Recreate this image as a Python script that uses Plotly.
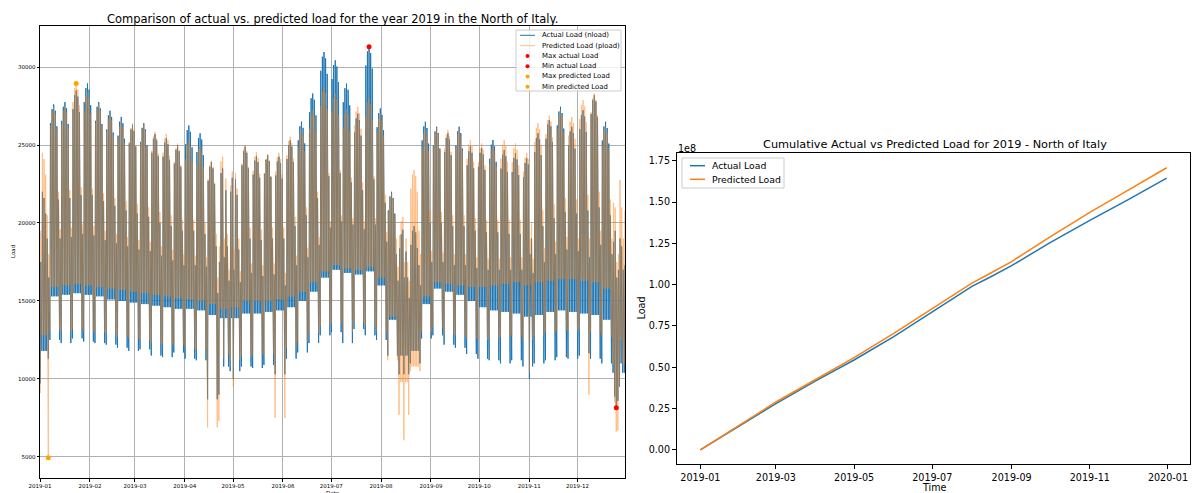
import pandas as pd
import numpy as np
import plotly.graph_objects as go

# The page draws the figure 8 px in from the top-left corner, so the figure is 8 px smaller
OFF = 8
W, H = 1200 - OFF, 493 - OFF

# ---------------- Left panel data (weekly readings; week k starts Monday 2018-12-31 + 7k) -------------
act_peak = [22000, 27600, 27750, 28500, 28950, 27750, 27200, 26800, 26300, 26400, 25700, 25450, 25000,
            26250, 25750, 23900, 23500, 23200, 24900, 24300, 24360, 24250, 25300, 26500, 28300, 30960,
            30430, 28940, 27000, 31300, 27340, 22000, 19570, 19800, 26490, 26170, 25750, 26170, 24900,
            24800, 25320, 24680, 24470, 24150, 25750, 26600, 27450, 26170, 27230, 28190, 26490, 20000, 18500]
prd_peak = [24500, 27400, 27500, 28950, 28400, 27600, 27000, 26500, 26400, 26300, 25850, 25700, 25100,
            25300, 25000, 24000, 24250, 23600, 25000, 24550, 24400, 24500, 25530, 26000, 27230, 28700,
            28300, 27300, 27450, 28000, 27000, 21900, 20400, 23400, 26000, 26100, 25960, 26000, 25320,
            25100, 25000, 25320, 25100, 24500, 26400, 26900, 27230, 26800, 27870, 28300, 26170, 22500, 22000]
act_sat = [19000, 21500, 21600, 21800, 21800, 21400, 21100, 20800, 20600, 20400, 20000, 19800, 19500,
           19500, 19300, 18500, 18500, 18300, 19000, 18900, 19000, 19000, 19800, 20500, 21600, 23000,
           23200, 22600, 22100, 22800, 21300, 18000, 16500, 17300, 20000, 20000, 19800, 19800, 19500,
           19400, 19400, 19300, 19300, 19000, 19800, 20300, 20700, 20600, 20800, 21000, 20500, 18500, 18500]
prd_sat = [20500, 22000, 22100, 22300, 22200, 21900, 21600, 21400, 21200, 21000, 20700, 20500, 20200,
           20200, 20000, 19300, 19300, 19000, 19700, 19600, 19700, 19700, 20400, 21000, 22000, 23200,
           23400, 22900, 22600, 23000, 21800, 19000, 17500, 19500, 20800, 20700, 20500, 20500, 20300,
           20200, 20200, 20200, 20200, 20000, 20800, 21200, 21600, 21500, 21800, 22000, 21500, 21000, 21000]
act_sun = [16500, 19000, 19100, 19300, 19200, 18900, 18700, 18500, 18300, 18200, 17900, 17600, 17300,
           17300, 17200, 15500, 16300, 16200, 16800, 16600, 16700, 16000, 17300, 17800, 18600, 19700,
           20100, 19900, 19600, 19900, 18800, 16300, 15200, 16000, 17500, 17500, 17300, 17300, 17100,
           17000, 17000, 17000, 17000, 16800, 17500, 18000, 18300, 18200, 17800, 18600, 18000, 17000, 17000]
prd_sun = [18000, 19600, 19700, 19900, 19800, 19500, 19300, 19100, 18900, 18800, 18500, 18300, 18000,
           17900, 17800, 16500, 17000, 16900, 17400, 17300, 17400, 16800, 17900, 18400, 19100, 20100,
           20500, 20300, 20100, 20300, 19400, 17200, 16300, 18000, 18200, 18100, 18000, 18000, 17800,
           17700, 17700, 17800, 17800, 17700, 18400, 18800, 19100, 19000, 18800, 19500, 19000, 19000, 19000]
act_low = [11800, 15300, 15400, 15500, 15400, 15300, 15100, 15000, 14900, 14800, 14700, 14600, 14500,
           14500, 14400, 14100, 13900, 13900, 14200, 14200, 14300, 14400, 14600, 15000, 15600, 16500,
           17000, 16800, 16700, 16900, 16000, 13800, 11500, 11800, 14800, 15800, 15600, 15400, 15000,
           14600, 14400, 14300, 14200, 14000, 14100, 14300, 14400, 14300, 14200, 14100, 13800, 11000, 10400]
prd_low = [12800, 15900, 16000, 16100, 16000, 15900, 15800, 15700, 15600, 15500, 15400, 15300, 15200,
           15100, 15000, 14800, 14500, 14600, 15000, 15000, 15000, 15100, 15300, 15600, 16200, 16900,
           17300, 17100, 17000, 17200, 16500, 14000, 9800, 10800, 15300, 16200, 16100, 16000, 15900,
           15900, 16000, 16100, 16200, 16000, 16200, 16300, 16400, 16400, 16300, 16200, 15800, 12500, 11000]
act_low_wkend = [11300, 12500, 12300, 12600, 12400, 12300, 12200, 12000, 11800, 11900, 11500, 11400, 11700,
                 11300, 11200, 8700, 10800, 10500, 10800, 10700, 10900, 10300, 11300, 11700, 12300, 12800,
                 13000, 12300, 13200, 12800, 12500, 11500, 10300, 11000, 12600, 12800, 12200, 12000, 11600,
                 11300, 11200, 11000, 11200, 10800, 11000, 11200, 11400, 11300, 11500, 11300, 11000, 10400, 10400]
prd_low_wkend = [4950, 13100, 13100, 13200, 13000, 13000, 12900, 12700, 12600, 12500, 12300, 12200, 12200,
                 12000, 11900, 6900, 11600, 11200, 11500, 11500, 11600, 7500, 12000, 12400, 12900, 13400,
                 13600, 13000, 13600, 13400, 13000, 11200, 7700, 10500, 13000, 13300, 12900, 12800, 12600,
                 12500, 12600, 12700, 12800, 12500, 12800, 13000, 13100, 13100, 13200, 13000, 12700, 11000, 11000]
weekday_peak_offset = [-1200, -300, 0, -400, -1400]   # Mon..Fri, relative to the weekly peak

holiday_dates = ["2019-01-01", "2019-04-22", "2019-04-25", "2019-05-01", "2019-08-15", "2019-11-01",
                 "2019-12-08", "2019-12-24", "2019-12-25", "2019-12-26", "2019-12-27"]
holiday_act_peak = [17500, 17500, 17800, 17000, 16500, 18000, 17800, 19500, 16500, 17000, 19000]
holiday_prd_peak = [19500, 18500, 19000, 18300, 17500, 19000, 19000, 21000, 17500, 18000, 22760]
holiday_act_low = [9700, 9000, 10800, 10000, 10300, 10000, 11650, 8870, 8160, 8600, 9500]
holiday_prd_low = [9100, 7300, 11300, 9500, 6070, 10400, 9000, 8500, 6620, 6700, 9500]

# ---------------- Right panel data (cumulative load) ----------------
cum_dates = ["2019-01-01", "2019-02-01", "2019-03-01", "2019-04-01", "2019-05-01", "2019-06-01",
             "2019-07-01", "2019-08-01", "2019-08-15", "2019-09-01", "2019-10-01", "2019-11-01",
             "2019-12-01", "2019-12-31"]
cum_actual = [0, 14.8e6, 28.0e6, 41.8e6, 54.4e6, 68.5e6, 83.4e6, 99.0e6, 104.5e6, 111.5e6,
              125.5e6, 139.0e6, 151.5e6, 164.5e6]
cum_predicted = [0, 15.0e6, 29.0e6, 42.6e6, 55.9e6, 70.5e6, 85.4e6, 101.0e6, 106.8e6, 114.0e6,
                 129.0e6, 143.8e6, 157.2e6, 170.8e6]

# ---------------- build the series from the readings ----------------
hol = {d: (a, b, c, e) for d, a, b, c, e in zip(holiday_dates, holiday_act_peak, holiday_prd_peak,
                                                  holiday_act_low, holiday_prd_low)}
week0 = pd.Timestamp("2018-12-31")
times, act, prd = [], [], []
for d in pd.date_range("2019-01-01", "2019-12-30", freq="D"):
    w = (d - week0).days // 7
    dow = d.weekday()
    if dow < 5:
        a_pk = act_peak[w] + weekday_peak_offset[dow]
        p_pk = prd_peak[w] + weekday_peak_offset[dow]
    elif dow == 5:
        a_pk, p_pk = act_sat[w], prd_sat[w]
    else:
        a_pk, p_pk = act_sun[w], prd_sun[w]
    if dow in (0, 6):
        a_lo, p_lo = act_low_wkend[w], prd_low_wkend[w]
    else:
        a_lo, p_lo = act_low[w], prd_low[w]
    key = d.strftime("%Y-%m-%d")
    if key in hol:
        a_pk, p_pk, a_lo, p_lo = hol[key]
    times += [d + pd.Timedelta(hours=4), d + pd.Timedelta(hours=12)]
    act += [a_lo, a_pk]
    prd += [p_lo, p_pk]
times = pd.DatetimeIndex(times)
act = np.array(act)
prd = np.array(prd)

BLUE = "#1f77b4"
ORANGE = "#ff7f0e"
FONT = "DejaVu Sans"

fig = go.Figure()
fig.add_trace(go.Scatter(x=times, y=act, mode="lines", line=dict(color=BLUE, width=1),
                         xaxis="x", yaxis="y", showlegend=False))
fig.add_trace(go.Scatter(x=times, y=prd, mode="lines", line=dict(color=ORANGE, width=1),
                         opacity=0.5, xaxis="x", yaxis="y", showlegend=False))
for idx_fn, arr, col in [(np.argmax, act, "red"), (np.argmin, act, "red"),
                         (np.argmax, prd, "orange"), (np.argmin, prd, "orange")]:
    i = idx_fn(arr)
    fig.add_trace(go.Scatter(x=[times[i]], y=[arr[i]], mode="markers",
                             marker=dict(color=col, size=5, line=dict(width=0)),
                             xaxis="x", yaxis="y", showlegend=False))

fig.add_trace(go.Scatter(x=pd.to_datetime(cum_dates), y=cum_actual, mode="lines",
                         line=dict(color=BLUE, width=1.5), xaxis="x2", yaxis="y2", showlegend=False))
fig.add_trace(go.Scatter(x=pd.to_datetime(cum_dates), y=cum_predicted, mode="lines",
                         line=dict(color=ORANGE, width=1.5), xaxis="x2", yaxis="y2", showlegend=False))


def px(x):
    return (x - OFF) / W


def py(y):
    return 1 - (y - OFF) / H


month_ticks = pd.date_range("2019-01-01", "2019-12-01", freq="MS")
right_ticks = pd.date_range("2019-01-01", "2020-01-01", freq="2MS")
ytick2 = [0, 0.25e8, 0.5e8, 0.75e8, 1.0e8, 1.25e8, 1.5e8, 1.75e8]

axis_common = dict(showline=True, linecolor="black", linewidth=1, mirror=True, ticks="outside",
                   tickcolor="black", zeroline=False, automargin=False)

fig.update_layout(
    width=W, height=H, margin=dict(l=0, r=0, t=0, b=0, pad=0, autoexpand=False),
    paper_bgcolor="white", plot_bgcolor="white",
    font=dict(family=FONT, color="black"),
    showlegend=False,
    xaxis=dict(domain=[px(40), px(625)], anchor="y", type="date",
               range=["2019-01-01 00:00", "2019-12-30 14:00"],
               tickvals=list(month_ticks), ticktext=[t.strftime("%Y-%m") for t in month_ticks],
               showgrid=True, gridcolor="#b0b0b0", gridwidth=1, ticklen=2.5, tickwidth=0.8,
               tickfont=dict(size=5.5, family=FONT, color="black"), **axis_common),
    yaxis=dict(domain=[py(478), py(26)], anchor="x", range=[3650, 32630],
               tickvals=[5000, 10000, 15000, 20000, 25000, 30000],
               ticktext=["5000", "10000", "15000", "20000", "25000", "30000"],
               showgrid=True, gridcolor="#b0b0b0", gridwidth=1, ticklen=2.5, tickwidth=0.8,
               tickfont=dict(size=5.5, family=FONT, color="black"), **axis_common),
    xaxis2=dict(domain=[px(677), px(1190)], anchor="y2", type="date",
                range=["2018-12-13 19:00", "2020-01-18 05:00"],
                tickvals=list(right_ticks), ticktext=[t.strftime("%Y-%m") for t in right_ticks],
                showgrid=False, ticklen=4, tickwidth=1,
                tickfont=dict(size=9.6, family=FONT, color="black"), **axis_common),
    yaxis2=dict(domain=[py(464), py(153.3)], anchor="x2", range=[-0.0855e8, 1.7955e8],
                tickvals=ytick2, ticktext=[f"{v/1e8:.2f}" for v in ytick2],
                showgrid=False, ticklen=4, tickwidth=1,
                tickfont=dict(size=9.6, family=FONT, color="black"), **axis_common),
)

ann = []


def text(x, y, s, size, xanchor="center", yanchor="middle", angle=0, color="black"):
    ann.append(dict(x=px(x), y=py(y), xref="paper", yref="paper", text=s, showarrow=False,
                    xanchor=xanchor, yanchor=yanchor, textangle=angle, borderpad=0,
                    font=dict(size=size, family=FONT, color=color)))


text(332.5, 19, "Comparison of actual vs. predicted load for the year 2019 in the North of Italy.", 11.5)
text(332.5, 489, "Date", 5.5, yanchor="top")
text(13, 252, "Load", 5.5, angle=-90)
text(935, 144, "Cumulative Actual vs Predicted Load for 2019 - North of Italy", 11.3)
text(934, 487, "Time", 9.6)
text(641, 308.5, "Load", 9.6, angle=-90)
text(677, 148, "1e8", 9.6, xanchor="left")

shapes = []
# left legend (manual)
shapes.append(dict(type="rect", xref="paper", yref="paper", x0=px(516), x1=px(621), y0=py(91), y1=py(30),
                   line=dict(color="#cccccc", width=1), fillcolor="rgba(255,255,255,0.8)"))
left_items = [("line", BLUE, 1, "Actual Load (nload)"),
              ("line", ORANGE, 0.5, "Predicted Load (pload)"),
              ("dot", "red", 1, "Max actual Load"),
              ("dot", "red", 1, "Min actual Load"),
              ("dot", "orange", 1, "Max predicted Load"),
              ("dot", "orange", 1, "Min predicted Load")]
rows = [35.3, 45.7, 56.0, 66.3, 76.5, 86.7]
for (kind, col, op, label), yy in zip(left_items, rows):
    if kind == "line":
        shapes.append(dict(type="line", xref="paper", yref="paper", x0=px(520), x1=px(535), y0=py(yy),
                           y1=py(yy), line=dict(color=col, width=1), opacity=op))
    else:
        r = 2.0
        shapes.append(dict(type="circle", xref="paper", yref="paper", x0=px(527.5 - r), x1=px(527.5 + r),
                           y0=py(yy + r), y1=py(yy - r), fillcolor=col, line=dict(width=0)))
    text(540.7, yy, label, 6.9, xanchor="left")

# right legend (manual)
shapes.append(dict(type="rect", xref="paper", yref="paper", x0=px(682), x1=px(784), y0=py(188), y1=py(158),
                   line=dict(color="#cccccc", width=1), fillcolor="rgba(255,255,255,0.8)"))
for col, label, yy in [(BLUE, "Actual Load", 165.7), (ORANGE, "Predicted Load", 179.3)]:
    shapes.append(dict(type="line", xref="paper", yref="paper", x0=px(690), x1=px(705), y0=py(yy), y1=py(yy),
                       line=dict(color=col, width=1.5)))
    text(711.4, yy, label, 9.3, xanchor="left")

fig.update_layout(annotations=ann, shapes=shapes)
fig.write_html("out.html")
